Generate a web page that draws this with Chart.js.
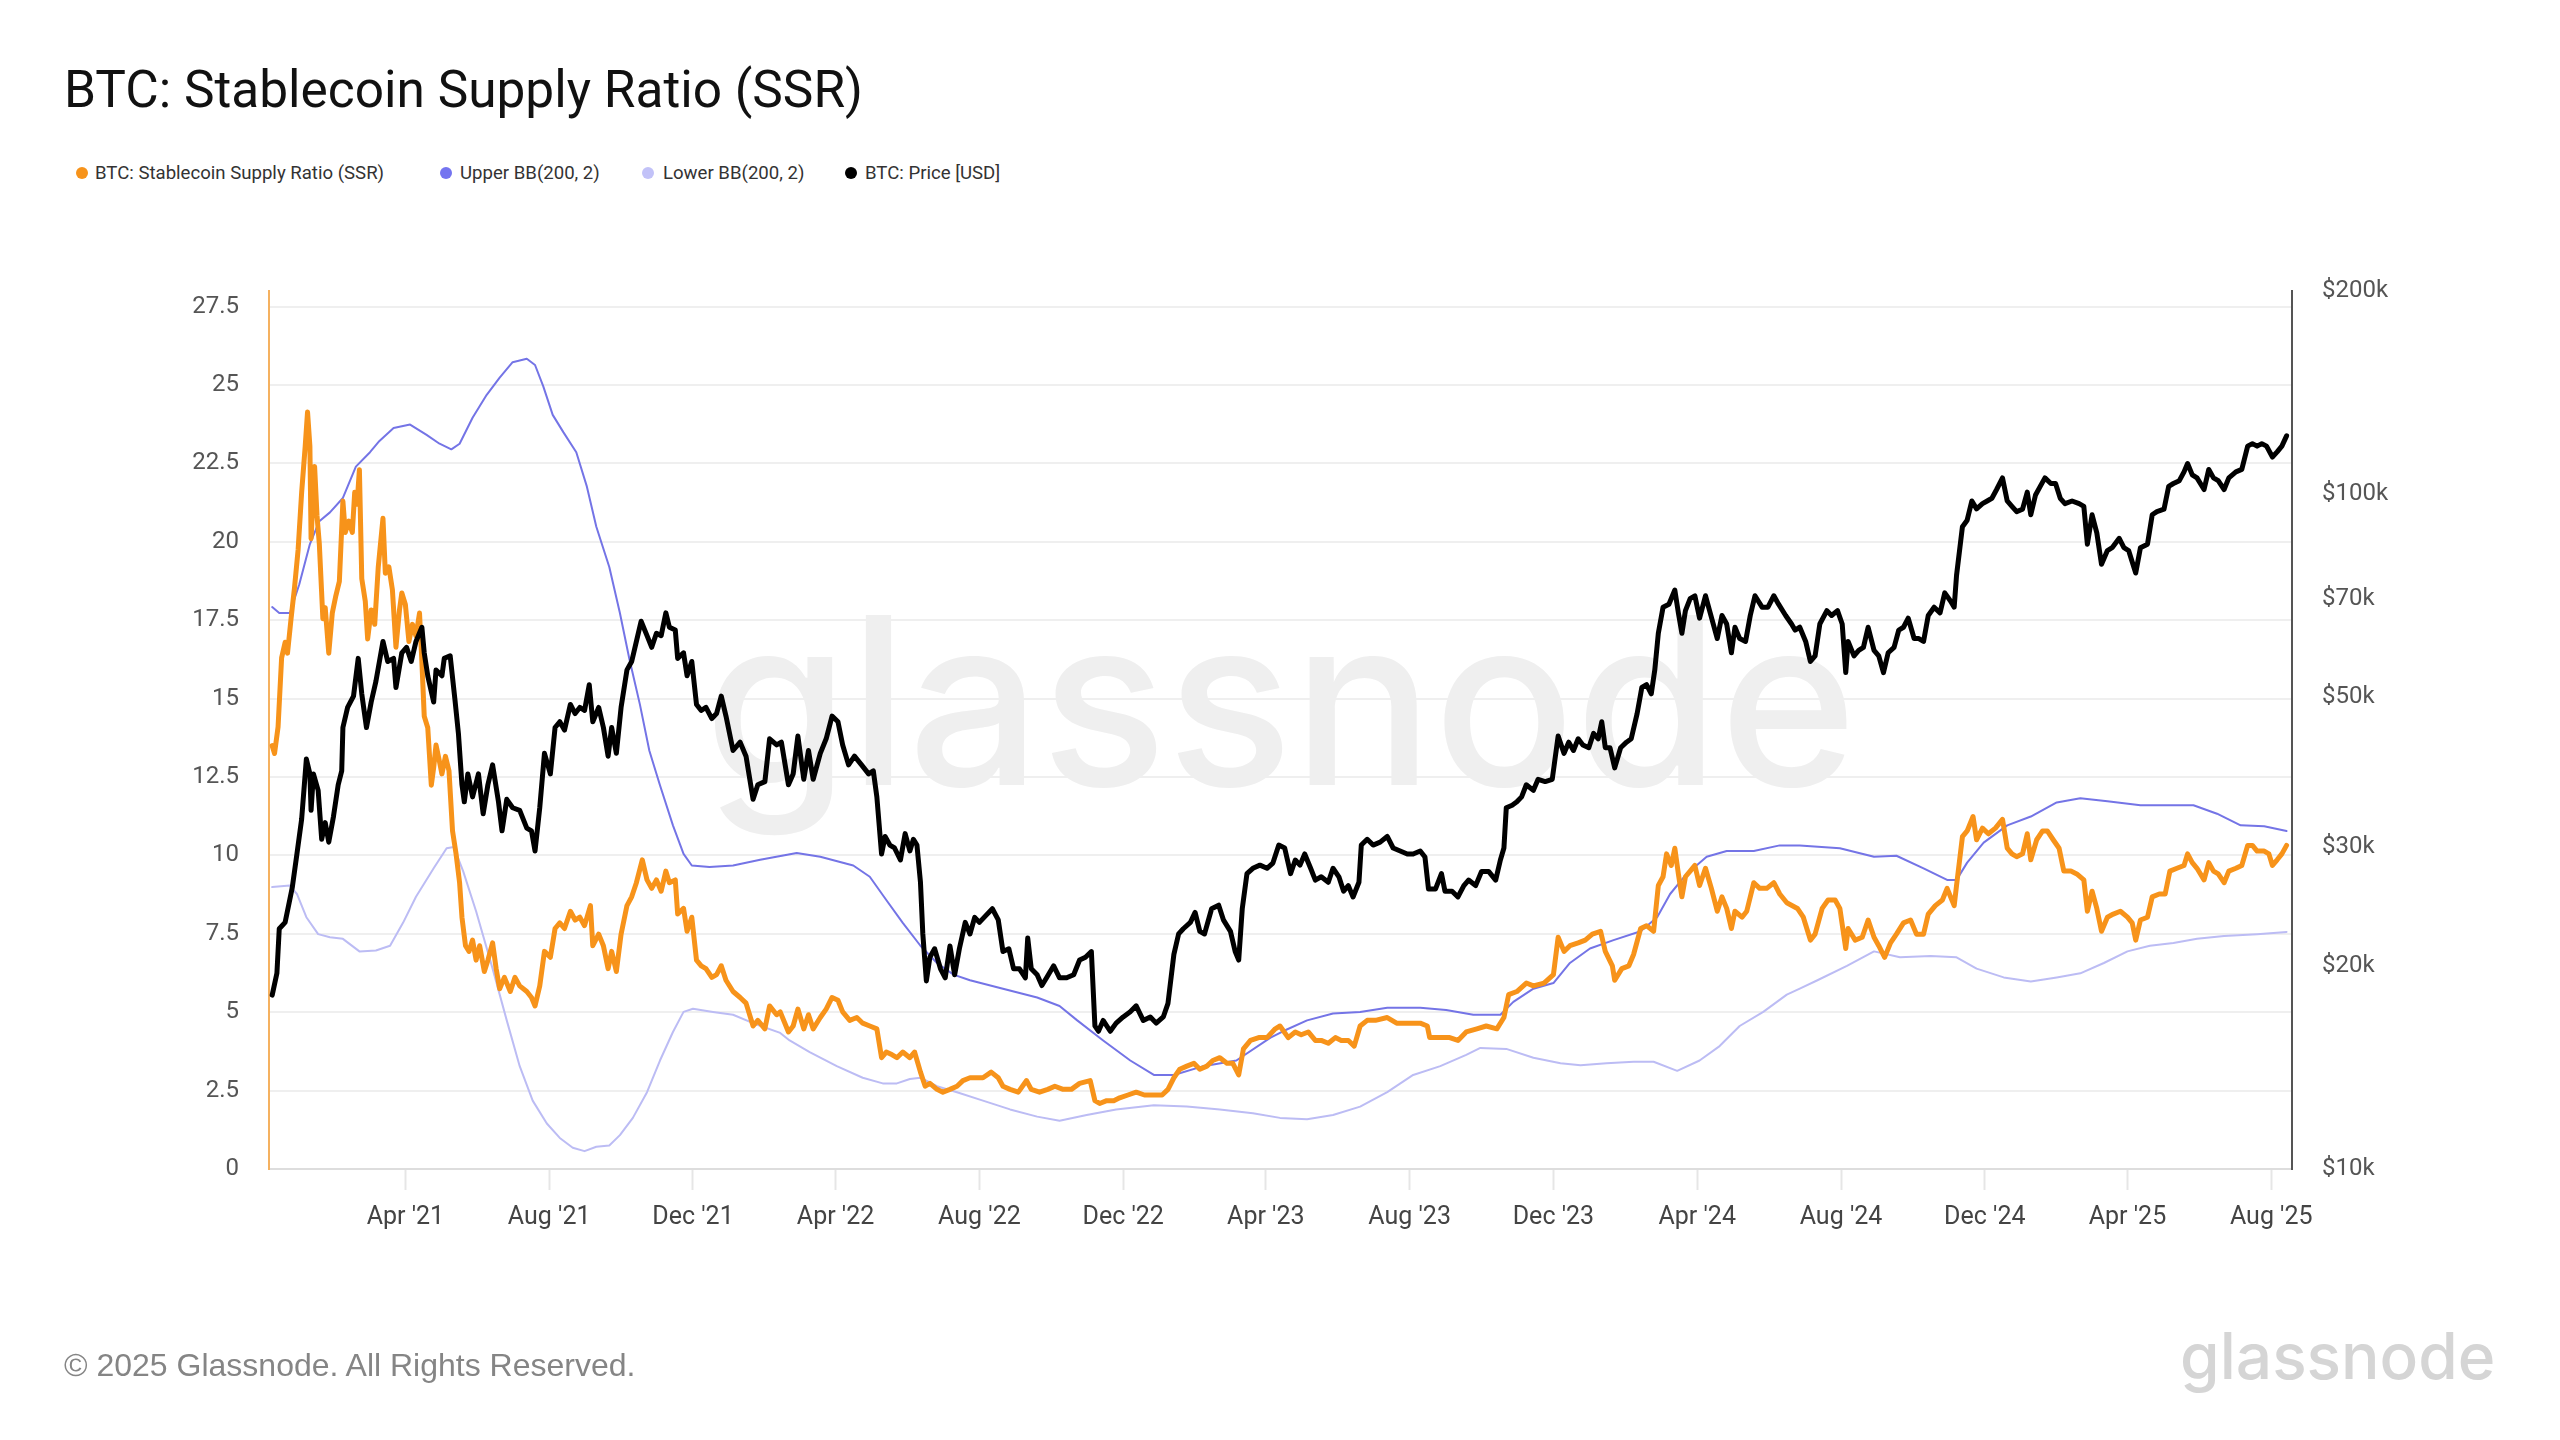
<!DOCTYPE html>
<html>
<head>
<meta charset="utf-8">
<title>BTC: Stablecoin Supply Ratio (SSR)</title>
<script src="https://cdn.jsdelivr.net/npm/chart.js@4.4.1/dist/chart.umd.min.js"></script>
<style>
  html, body { margin: 0; padding: 0; background: #fff; }
  body { width: 2560px; height: 1440px; position: relative; overflow: hidden; font-family: Roboto, sans-serif; }
  #title { position: absolute; left: 64px; top: 64px; font-size: 51.4px; line-height: 52px; color: #111; white-space: nowrap; }
  .legend-text { position: absolute; top: 164px; font-size: 18.6px; line-height: 19px; color: #333; white-space: nowrap; }
  .legend-dot { position: absolute; top: 167px; width: 12px; height: 12px; border-radius: 50%; }
  #footer { position: absolute; left: 64px; top: 1349px; font-family: "Liberation Sans", Arial, sans-serif; font-size: 32px; line-height: 32px; color: #858585; white-space: nowrap; }
  #logo { position: absolute; left: 2180px; top: 1324px; font-family: Inter, sans-serif; font-weight: 500; font-size: 64px; line-height: 64px; color: #d5d5d5; white-space: nowrap; }
  #chart { position: absolute; left: 0; top: 0; }
</style>
</head>
<body>
<div id="title">BTC: Stablecoin Supply Ratio (SSR)</div>

<span class="legend-dot" style="left:76px;background:#f7931a"></span>
<span class="legend-text" style="left:95px">BTC: Stablecoin Supply Ratio (SSR)</span>
<span class="legend-dot" style="left:440px;background:#7474f0"></span>
<span class="legend-text" style="left:460px">Upper BB(200, 2)</span>
<span class="legend-dot" style="left:642px;background:#c2c2f8"></span>
<span class="legend-text" style="left:663px">Lower BB(200, 2)</span>
<span class="legend-dot" style="left:845px;background:#000"></span>
<span class="legend-text" style="left:865px">BTC: Price [USD]</span>

<canvas id="chart" width="2560" height="1440"></canvas>

<div id="footer">© 2025 Glassnode. All Rights Reserved.</div>
<div id="logo">glassnode</div>

<script>
// x values are days counted from 2020-12-01
const ssrDays = [
  8,10,13,16,19,21,24,27,30,33,36,38,40,41,44,46,48,51,53,56,
  59,62,65,68,70,73,76,78,80,82,84,87,89,92,95,98,102,104,107,110,
  113,116,118,121,124,127,130,133,135,137,140,143,145,147,150,152,155,158,161,164,
  167,169,172,175,178,181,184,188,191,195,198,201,205,210,214,218,224,228,231,235,
  239,244,248,252,256,261,265,269,273,278,280,285,289,293,296,300,304,309,313,317,
  322,326,330,334,338,342,345,350,352,357,360,364,368,372,376,381,385,389,393,399,
  405,410,416,420,426,430,436,439,446,450,454,459,463,467,473,478,483,488,492,498,
  504,509,515,521,525,529,534,538,543,549,553,558,562,566,572,577,583,589,594,600,
  606,611,618,624,628,634,641,648,652,659,666,672,679,686,693,702,706,710,716,722,
  727,734,741,748,756,763,768,773,778,784,790,795,801,806,812,818,823,828,832,838,
  845,852,859,863,870,876,881,887,893,898,904,910,915,921,926,931,937,944,954,962,
  971,982,988,990,999,1007,1014,1021,1030,1038,1047,1053,1057,1064,1072,1078,1087,1095,1099,1104,
  1109,1116,1122,1128,1135,1139,1145,1147,1153,1159,1163,1169,1174,1180,1184,1188,1191,1195,1198,1201,
  1204,1207,1211,1215,1219,1224,1229,1234,1238,1242,1246,1249,1255,1259,1265,1270,1276,1282,1287,1293,
  1302,1307,1313,1317,1323,1328,1334,1338,1343,1345,1351,1357,1362,1367,1371,1376,1381,1386,1392,1398,
  1403,1409,1413,1419,1425,1429,1435,1437,1442,1446,1451,1454,1459,1464,1470,1476,1480,1484,1488,1493,
  1497,1500,1505,1510,1514,1519,1524,1528,1534,1539,1545,1548,1552,1556,1560,1565,1570,1576,1582,1586,
  1589,1593,1599,1603,1609,1614,1618,1624,1630,1633,1637,1641,1647,1651,1655,1659,1664,1668,1674,1679,
  1684,1688,1692,1698,1702,1705,1709,1713,1717
];
const ssrValues = [
  13.5,13.25,14.1,16.3,16.8,16.45,17.55,18.56,19.75,21.58,23.04,24.14,23.04,20.1,22.4,20.85,19.93,17.55,17.9,16.45,
  17.73,18.28,18.74,21.3,20.3,20.66,20.3,21.58,21.2,22.3,18.83,18.1,16.9,17.83,17.37,19.2,20.75,19.0,19.2,18.47,
  16.64,17.83,18.37,18.0,16.82,17.37,17.0,17.73,16.18,14.44,14.07,12.24,12.8,13.52,12.98,12.6,13.16,12.7,10.78,10.05,
  9.13,8.03,7.12,6.94,7.3,6.66,7.12,6.3,6.66,7.21,6.39,5.75,6.11,5.66,6.11,5.84,5.66,5.47,5.2,5.84,
  6.94,6.75,7.67,7.85,7.67,8.22,7.94,8.03,7.76,8.4,7.12,7.49,7.12,6.39,6.94,6.3,7.49,8.4,8.68,9.13,
  9.86,9.22,8.95,9.22,8.86,9.5,9.13,9.22,8.13,8.31,7.58,8.03,6.66,6.48,6.39,6.11,6.2,6.48,6.02,5.66,
  5.47,5.29,4.56,4.74,4.47,5.2,4.92,5.01,4.37,4.56,5.1,4.47,4.92,4.47,4.83,5.1,5.47,5.38,5.01,4.74,
  4.83,4.65,4.56,4.47,3.55,3.73,3.64,3.55,3.73,3.55,3.73,3.09,2.64,2.73,2.54,2.45,2.54,2.64,2.82,2.91,
  2.91,2.91,3.09,2.91,2.64,2.54,2.45,2.82,2.54,2.45,2.54,2.64,2.54,2.54,2.73,2.82,2.18,2.09,2.18,2.18,
  2.27,2.36,2.45,2.36,2.36,2.36,2.54,2.91,3.18,3.28,3.37,3.18,3.28,3.46,3.55,3.37,3.37,3.0,3.83,4.1,
  4.19,4.19,4.47,4.56,4.19,4.37,4.28,4.37,4.1,4.1,4.01,4.19,4.1,4.1,3.92,4.56,4.74,4.74,4.83,4.65,
  4.65,4.65,4.56,4.19,4.19,4.19,4.1,4.37,4.47,4.56,4.47,4.83,5.56,5.66,5.93,5.84,5.93,6.2,7.39,6.94,
  7.12,7.21,7.3,7.49,7.58,6.94,6.48,6.02,6.39,6.48,6.84,7.67,7.76,7.58,9.04,9.32,10.05,9.68,10.23,9.41,
  8.68,9.32,9.5,9.68,9.04,9.59,8.95,8.22,8.68,8.31,7.67,8.22,8.03,8.22,9.13,8.95,8.95,9.13,8.77,8.49,
  8.31,8.03,7.3,7.49,8.31,8.58,8.58,8.31,7.03,7.67,7.3,7.39,7.94,7.39,7.12,6.75,7.21,7.49,7.85,7.94,
  7.49,7.49,8.13,8.4,8.58,8.95,8.4,9.04,10.6,10.78,11.24,10.5,10.87,10.69,10.87,11.15,10.23,10.05,9.96,10.05,
  10.69,9.86,10.5,10.78,10.78,10.5,10.23,9.5,9.5,9.41,9.22,8.22,8.86,8.31,7.58,8.03,8.13,8.22,8.03,7.85,
  7.3,7.94,8.03,8.68,8.77,8.77,9.5,9.59,9.68,10.05,9.77,9.59,9.22,9.77,9.5,9.41,9.13,9.5,9.59,9.68,
  10.32,10.32,10.14,10.14,10.05,9.68,9.86,10.05,10.32
];

const priceDays = [
  8,12,14,19,25,29,33,37,40,41,43,47,50,53,56,60,64,67,68,72,
  77,81,84,88,92,96,102,106,111,113,118,122,126,130,135,137,140,145,147,152,
  154,159,163,166,169,171,174,178,183,187,191,195,200,203,207,212,218,224,228,231,
  235,239,244,248,252,256,261,265,269,273,277,280,285,289,293,296,300,304,309,313,
  317,321,326,330,334,338,342,345,350,352,357,360,364,368,372,376,381,385,389,393,
  399,405,410,416,420,426,430,436,440,446,450,454,459,463,467,473,478,483,488,492,
  497,502,508,514,518,521,525,528,532,536,541,545,549,552,555,558,560,563,566,570,
  575,579,583,587,591,596,600,604,608,614,619,624,628,633,637,642,647,649,652,657,
  661,665,671,676,682,688,693,698,703,706,709,713,719,724,730,736,741,747,753,758,
  764,768,773,777,781,787,791,795,799,805,811,815,821,825,828,831,835,840,846,852,
  857,862,867,872,876,880,884,889,893,898,904,908,913,917,921,925,930,932,937,942,
  948,954,959,965,971,976,982,986,989,995,1000,1003,1009,1014,1019,1023,1029,1034,1040,1046,
  1050,1053,1055,1060,1064,1068,1072,1078,1082,1088,1094,1096,1099,1104,1108,1112,1116,1120,1125,1129,
  1133,1136,1139,1143,1147,1152,1157,1161,1166,1170,1174,1178,1181,1184,1188,1193,1198,1201,1204,1207,
  1211,1215,1219,1224,1228,1234,1238,1242,1246,1249,1253,1258,1262,1266,1272,1277,1282,1286,1292,1297,
  1300,1304,1309,1313,1317,1321,1327,1331,1336,1340,1343,1345,1350,1354,1358,1362,1367,1371,1375,1379,
  1384,1388,1392,1396,1401,1405,1409,1413,1418,1423,1427,1432,1435,1437,1442,1446,1450,1454,1459,1463,
  1467,1471,1476,1480,1484,1488,1493,1497,1500,1504,1508,1512,1517,1521,1525,1529,1535,1541,1545,1548,
  1552,1556,1560,1565,1569,1575,1579,1583,1589,1593,1599,1603,1607,1613,1617,1621,1626,1630,1633,1637,
  1641,1647,1651,1655,1659,1664,1668,1674,1679,1684,1688,1692,1696,1700,1705,1709,1713,1717
];
const priceValues = [
  18100,19500,22700,23200,26100,29300,33000,40500,38500,34000,38500,36400,30800,32600,30500,33300,37100,38900,45100,48300,
  50200,57100,50600,45100,49200,52800,60500,56500,57100,51700,58200,59300,56500,60500,63500,58200,53800,49200,54900,53800,
  57100,57600,49700,44200,37100,35000,38500,35600,38500,33600,37100,39700,35000,31700,35300,34300,34000,32000,31700,29600,
  34300,41300,38500,45100,46000,44700,48800,47300,48300,47800,52200,46000,48300,45100,40900,45100,41300,48300,54900,56500,
  60500,64800,61700,59300,62200,61700,66700,63500,62900,57100,58200,53800,56500,48800,47800,48300,46500,47300,50200,46900,
  41700,42900,40900,35300,37100,37500,43400,42500,42900,37100,38500,43800,37800,41700,37800,41300,43400,46900,46000,42500,
  39700,40900,39700,38500,38900,35600,29300,31100,30200,29900,28700,31400,29600,30800,30200,26600,22300,19000,20600,21200,
  19800,19200,21400,19400,21200,23200,22300,23600,23200,23800,24300,23400,21000,21200,19800,19800,19200,22000,19800,19400,
  18700,19200,20000,19200,19200,19400,20400,20600,21000,16300,16000,16600,16000,16450,16800,17100,17450,16600,16800,16450,
  16800,17600,20800,22300,22700,23200,24000,22500,22300,24300,24600,23400,22500,21000,20400,24300,27400,27900,28200,27900,
  28400,30200,29900,27400,28700,28200,29300,27900,26800,27100,26600,27900,27100,25800,26300,25300,26600,30200,30800,30200,
  30500,31100,29900,29600,29300,29300,29600,29000,26000,26000,27400,25800,25800,25300,26300,26800,26300,27600,27600,26800,
  28700,29900,34300,34600,35000,35600,37100,36400,37800,37500,37800,40100,43800,41300,42900,41700,43400,42500,42100,44200,
  43400,46000,42100,42100,39300,42100,42900,43400,47300,51700,52200,50600,54900,62200,68000,68700,72100,66700,62200,67200,
  70000,70700,65500,70700,66700,61100,66100,64200,58200,63500,61100,60500,66100,70700,68000,68000,70700,68700,66100,64200,
  62900,63500,60500,56500,57600,64200,67200,66100,67200,64200,54400,60500,57600,58700,59300,63500,58700,57600,54400,58200,
  59300,62900,63500,65500,61100,61100,60500,66100,68000,66700,71400,69400,68000,75800,89500,91500,97700,95100,96800,97700,
  98600,101600,105700,97700,95900,94200,95000,100700,93200,99700,102700,105700,103700,103700,98600,96800,97700,96800,95900,84300,
  93200,87600,78700,82500,83300,86000,83300,82500,76400,83300,84300,93200,94200,95000,102700,103700,104700,107900,111000,106800,
  105700,101600,108800,105700,104700,101600,105700,107900,108800,117800,118800,117800,118800,117800,113500,115500,117800,122000
];

const upperDays = [
  8,14,23,31,40,48,57,68,79,91,99,111,125,139,150,160,167,178,190,201,
  212,224,231,238,246,255,266,275,283,294,303,311,320,328,337,348,357,364,379,399,
  422,453,473,501,515,529,543,558,572,586,600,628,657,676,691,713,736,756,773,798,
  826,855,866,886,908,931,954,982,1004,1027,1050,1061,1078,1095,1109,1126,1146,1169,1183,1194,
  1208,1225,1242,1265,1287,1304,1338,1367,1386,1409,1429,1437,1446,1460,1480,1500,1522,1542,1565,1593,
  1621,1638,1658,1678,1698,1717
];
const upperValues = [
  17.92,17.73,17.73,18.65,19.93,20.66,20.94,21.4,22.4,22.86,23.22,23.63,23.74,23.41,23.13,22.95,23.13,23.96,24.69,25.24,
  25.73,25.84,25.64,24.96,24.05,23.5,22.86,21.76,20.48,19.2,17.73,16.27,14.81,13.34,12.24,10.96,10.05,9.68,9.63,9.68,
  9.86,10.08,9.96,9.68,9.32,8.58,7.85,7.12,6.57,6.2,6.02,5.75,5.47,5.2,4.74,4.1,3.46,3.0,3.0,3.28,
  3.46,4.19,4.4,4.74,4.96,5.01,5.14,5.14,5.07,4.92,4.92,5.33,5.75,5.93,6.57,7.03,7.3,7.58,8.03,8.77,
  9.41,9.96,10.14,10.14,10.32,10.32,10.23,9.96,9.99,9.59,9.22,9.22,9.77,10.41,10.96,11.24,11.69,11.82,11.73,11.6,
  11.6,11.6,11.33,10.96,10.93,10.78
];

const lowerDays = [
  8,23,29,37,47,57,68,82,96,108,119,130,145,156,162,170,181,195,207,218,
  229,241,252,263,273,283,294,303,314,326,337,348,357,365,382,399,416,439,447,464,
  487,509,526,538,549,558,572,589,611,634,657,676,699,724,756,784,812,840,863,886,
  908,931,954,976,999,1021,1033,1055,1078,1101,1118,1140,1163,1180,1200,1219,1236,1253,1273,1293,
  1304,1319,1344,1367,1389,1415,1437,1454,1477,1500,1522,1542,1562,1582,1601,1621,1641,1664,1692,1717
];
const lowerValues = [
  8.99,9.04,8.77,8.03,7.49,7.39,7.34,6.94,6.97,7.12,7.85,8.68,9.59,10.23,10.27,9.5,8.22,6.39,4.74,3.28,
  2.18,1.45,0.99,0.68,0.57,0.71,0.75,1.08,1.63,2.45,3.46,4.37,5.01,5.11,5.01,4.92,4.65,4.34,4.1,3.73,
  3.28,2.91,2.73,2.73,2.87,2.91,2.64,2.45,2.18,1.9,1.67,1.54,1.72,1.9,2.03,1.99,1.9,1.78,1.63,1.59,
  1.72,1.99,2.45,3.0,3.28,3.64,3.86,3.83,3.55,3.37,3.31,3.37,3.42,3.42,3.13,3.46,3.92,4.56,5.01,5.56,
  5.75,6.02,6.48,6.94,6.75,6.79,6.75,6.39,6.11,5.98,6.11,6.24,6.57,6.94,7.12,7.21,7.34,7.43,7.49,7.56
];

const ssrTicks = [0, 2.5, 5, 7.5, 10, 12.5, 15, 17.5, 20, 22.5, 25, 27.5];
const priceTicks = [10000, 20000, 30000, 50000, 70000, 100000, 200000];
const priceTickLabels = ['$10k', '$20k', '$30k', '$50k', '$70k', '$100k', '$200k'];
const dateTicks = ['2021-04-01','2021-08-01','2021-12-01','2022-04-01','2022-08-01','2022-12-01','2023-04-01',
  '2023-08-01','2023-12-01','2024-04-01','2024-08-01','2024-12-01','2025-04-01','2025-08-01'];
const dateTickLabels = ["Apr '21","Aug '21","Dec '21","Apr '22","Aug '22","Dec '22","Apr '23",
  "Aug '23","Dec '23","Apr '24","Aug '24","Dec '24","Apr '25","Aug '25"];

const START = Date.UTC(2020, 11, 1);
function dayOf(s) {
  return (Date.parse(s + 'T00:00:00Z') - START) / 86400000;
}
function pts(days, vals) {
  return days.map((d, i) => ({ x: d, y: vals[i] }));
}

Chart.defaults.font.family = 'Roboto, sans-serif';

// big faint logo behind the lines
const watermark = {
  id: 'watermark',
  beforeDraw(chart) {
    const { ctx, chartArea } = chart;
    ctx.save();
    ctx.font = '500 234px Inter, sans-serif';
    ctx.fillStyle = '#efefef';
    ctx.textAlign = 'center';
    ctx.textBaseline = 'alphabetic';
    ctx.fillText('glassnode', (chartArea.left + chartArea.right) / 2, 785);
    ctx.restore();
  }
};

const ctx = document.getElementById('chart');

new Chart(ctx, {
  type: 'line',
  data: {
    datasets: [
      {
        label: 'BTC: Price [USD]',
        data: pts(priceDays, priceValues),
        yAxisID: 'yPrice',
        borderColor: '#000000',
        borderWidth: 5,
        order: 1
      },
      {
        label: 'BTC: Stablecoin Supply Ratio (SSR)',
        data: pts(ssrDays, ssrValues),
        yAxisID: 'y',
        borderColor: '#f7931a',
        borderWidth: 5,
        order: 2
      },
      {
        label: 'Upper BB(200, 2)',
        data: pts(upperDays, upperValues),
        yAxisID: 'y',
        borderColor: '#7474e6',
        borderWidth: 2,
        order: 3
      },
      {
        label: 'Lower BB(200, 2)',
        data: pts(lowerDays, lowerValues),
        yAxisID: 'y',
        borderColor: '#bcbcf4',
        borderWidth: 2,
        order: 4
      }
    ]
  },
  options: {
    responsive: false,
    animation: false,
    devicePixelRatio: 1,
    elements: {
      point: { radius: 0 },
      line: { tension: 0, borderJoinStyle: 'round', borderCapStyle: 'round' }
    },
    layout: { padding: { top: 291, left: 0, right: 0, bottom: 0 } },
    plugins: {
      legend: { display: false },
      tooltip: { enabled: false }
    },
    scales: {
      x: {
        type: 'linear',
        min: 5.3,
        max: 1721.6,
        afterBuildTicks: s => { s.ticks = dateTicks.map(d => ({ value: dayOf(d) })); },
        afterFit: s => { s.height = 271; },
        grid: { drawOnChartArea: false, tickLength: 21, tickColor: '#e6e6e6', tickWidth: 2 },
        border: { color: '#dddddd', width: 2 },
        ticks: {
          autoSkip: false,
          maxRotation: 0,
          padding: 13,
          color: '#444',
          font: { size: 25 },
          callback: (v, i) => dateTickLabels[i]
        }
      },
      y: {
        position: 'left',
        min: 0,
        max: 28,
        afterBuildTicks: s => { s.ticks = ssrTicks.map(v => ({ value: v })); },
        afterFit: s => { s.width = 269; },
        grid: { color: '#efefef', lineWidth: 2, drawTicks: false },
        border: { color: '#f5b160', width: 2 },
        ticks: {
          padding: 30,
          color: '#555',
          font: { size: 24 },
          callback: v => String(v)
        }
      },
      yPrice: {
        type: 'logarithmic',
        position: 'right',
        min: 10000,
        max: 200000,
        afterBuildTicks: s => { s.ticks = priceTicks.map(v => ({ value: v })); },
        afterFit: s => { s.width = 268; },
        grid: { drawOnChartArea: false, drawTicks: false },
        border: { color: '#555555', width: 2 },
        ticks: {
          padding: 30,
          color: '#555',
          font: { size: 24 },
          callback: (v, i) => priceTickLabels[priceTicks.indexOf(v)]
        }
      }
    }
  },
  plugins: [watermark]
});
</script>
</body>
</html>
